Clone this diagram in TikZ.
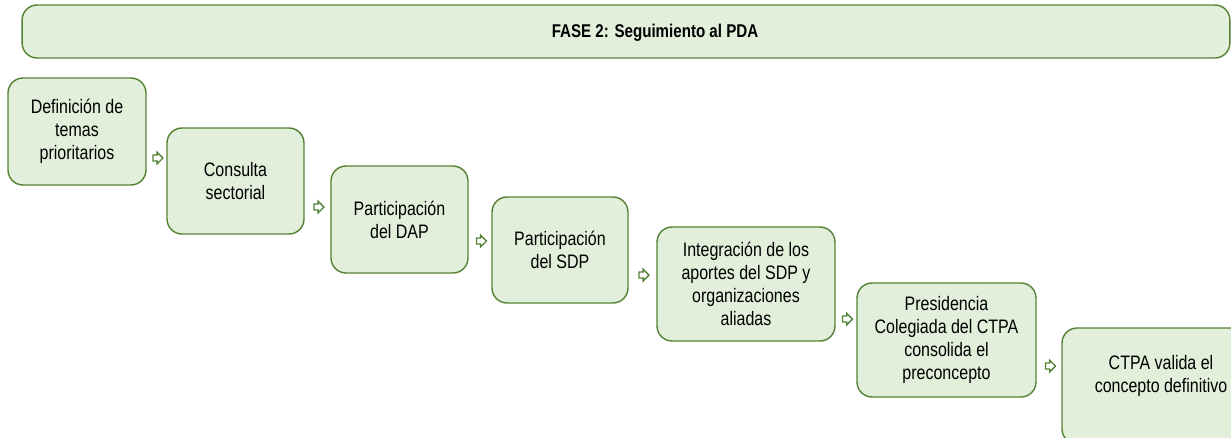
\documentclass[tikz,border=0pt]{standalone}
\usepackage{fontspec}
\setmainfont{Liberation Sans}[FakeStretch=0.82]
\usetikzlibrary{shapes.arrows}
\usetikzlibrary{positioning}
\definecolor{boxfill}{RGB}{226,239,218}
\definecolor{boxline}{RGB}{84,130,53}

\begin{document}
\begin{tikzpicture}
	[x=0.02cm, y=-0.02cm,
	every node/.style={font=\fontsize{11.1}{13.1}\selectfont},
	paso/.style = {draw=boxline, fill=boxfill, line width=0.8pt, rounded corners=0.3cm, align=center, inner sep=0pt},
	flecha/.style = {single arrow, draw=boxline, fill=white, line width=0.8pt, minimum height=0.2cm, inner sep=1.3pt, single arrow head extend=1.6pt}
	]
	\useasboundingbox (0,0) rectangle (1231,437);
	\clip (0,0) rectangle (1231,437);

	% encabezado
	\node[paso, minimum width=24.16cm, minimum height=1.06cm] (fase) at (626,31.5) {};
	\node[font=\fontsize{10.5}{12}\selectfont\bfseries] (titulo) at (655,33) {FASE 2: Seguimiento al PDA};

	% pasos
	\node[paso, minimum width=2.76cm, minimum height=2.14cm] (def) at (77,131.5) {Definición de\\temas\\prioritarios};
	\node[paso, minimum width=2.74cm, minimum height=2.12cm] (con) at (235.5,181) {Consulta\\sectorial};
	\node[paso, minimum width=2.74cm, minimum height=2.14cm] (dap) at (399.5,219.5) {Participación\\del DAP};
	\node[paso, minimum width=2.72cm, minimum height=2.12cm] (sdp) at (560,250) {Participación\\del SDP};
	\node[paso, minimum width=3.56cm, minimum height=2.28cm] (int) at (746,284) {Integración de los\\aportes del SDP y\\organizaciones\\aliadas};
	\node[paso, minimum width=3.58cm, minimum height=2.28cm] (pre) at (946.5,340) {Presidencia\\Colegiada del CTPA\\consolida el\\preconcepto};
	\node[paso, minimum width=3.96cm, minimum height=2.32cm] (val) at (1161,386) {};
	\node[align=center] (valt) at (1161,376) {CTPA valida el\\concepto definitivo};

	% flechas
	\node[flecha] (f1) at (156.5,158) {};
	\node[flecha] (f2) at (317.5,207) {};
	\node[flecha] (f3) at (480,241) {};
	\node[flecha] (f4) at (642.5,275) {};
	\node[flecha] (f5) at (846,319) {};
	\node[flecha] (f6) at (1049,366) {};
\end{tikzpicture}
\end{document}
